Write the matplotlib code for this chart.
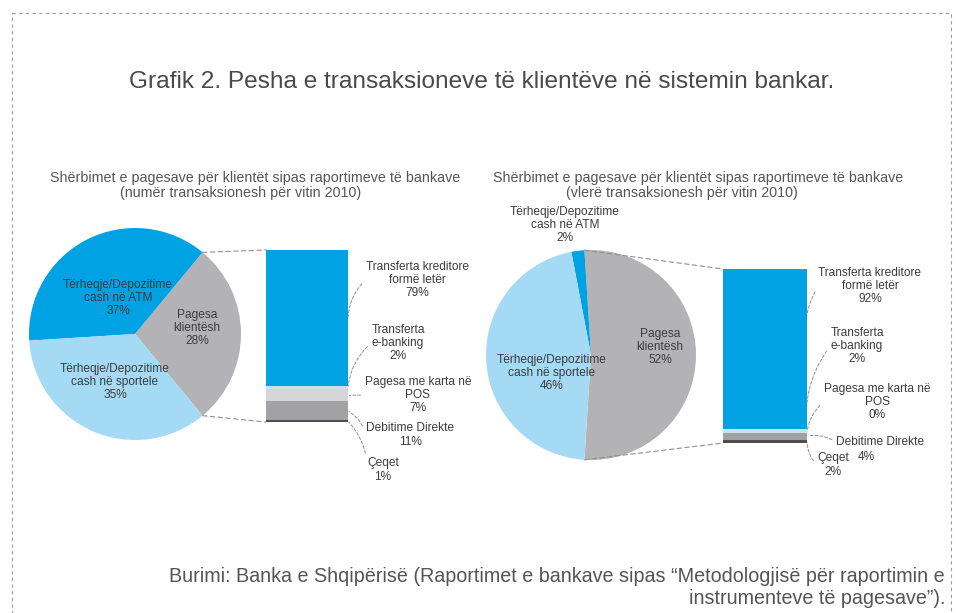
import matplotlib
matplotlib.use('Agg')
import matplotlib.pyplot as plt
from matplotlib.patches import ConnectionPatch, Rectangle
import numpy as np

# ---------------- data ----------------
title = "Grafik 2. Pesha e transaksioneve të klientëve në sistemin bankar."
subtitle_line1 = "Shërbimet e pagesave për klientët sipas raportimeve të bankave"
subtitle_left = "(numër transaksionesh për vitin 2010)"
subtitle_right = "(vlerë transaksionesh për vitin 2010)"
source_line1 = "Burimi: Banka e Shqipërisë (Raportimet e bankave sipas “Metodologjisë për raportimin e"
source_line2 = "instrumenteve të pagesave”)."

pie_labels = ["Pagesa\nklientësh", "Tërheqje/Depozitime\ncash në ATM", "Tërheqje/Depozitime\ncash në sportele"]
left_pie_values = [28, 37, 35]
right_pie_values = [52, 2, 46]

bar_labels = ["Transferta kreditore\nformë letër", "Transferta\ne-banking", "Pagesa me karta në\nPOS",
              "Debitime Direkte", "Çeqet"]
left_bar_values = [79, 2, 7, 11, 1]
right_bar_values = [92, 2, 0, 4, 2]

# ---------------- style / layout ----------------
W, H = 957, 613
BLUE = '#00a2e3'
LBLUE = '#a4daf4'
GRAY = '#b3b3b5'
pie_colors = [GRAY, BLUE, LBLUE]
bar_colors = [BLUE, '#c9e3ee', '#d6d6d8', '#a2a2a4', '#4e4e4e']
TXT = '#555555'
LTXT = '#3c3c3c'
LINE = '#8f8f8f'
LFS = 8.6

plt.rcParams['font.family'] = ['Liberation Sans', 'DejaVu Sans']

fig = plt.figure(figsize=(W / 100, H / 100), dpi=100)
fig.patch.set_facecolor('white')


def fbox(x0, y0, x1, y1):
    return [x0 / W, 1 - y1 / H, (x1 - x0) / W, (y1 - y0) / H]


bg = fig.add_axes([0, 0, 1, 1])
bg.set_xlim(0, W)
bg.set_ylim(H, 0)
bg.axis('off')

# dashed frame
bg.add_patch(Rectangle((12, 13), 939, 700, fill=False, ls=(0, (3, 3)), ec='#9c9c9c', lw=0.8))

bg.text(482, 82, title, ha='center', va='center', fontsize=17.6, color='#4a4a4a')
bg.text(255, 178, subtitle_line1, ha='center', va='center', fontsize=10.3, color=TXT)
bg.text(241, 193, subtitle_left, ha='center', va='center', fontsize=10.3, color=TXT)
bg.text(698, 178, subtitle_line1, ha='center', va='center', fontsize=10.3, color=TXT)
bg.text(682, 193, subtitle_right, ha='center', va='center', fontsize=10.3, color=TXT)
bg.text(945, 576, source_line1, ha='right', va='center', fontsize=14.2, color=TXT)
bg.text(945, 599, source_line2, ha='right', va='center', fontsize=14.2, color=TXT)


def draw_panel(pie_box, bar_box, pie_vals, bar_vals, pie_lpos, bar_lpos):
    axp = fig.add_axes(fbox(*pie_box))
    wedges, _ = axp.pie(pie_vals, colors=pie_colors, startangle=-180 * pie_vals[0] / 100,
                        radius=1, wedgeprops=dict(linewidth=0))
    axp.set_xlim(-1, 1)
    axp.set_ylim(-1, 1)
    axp.axis('off')

    axb = fig.add_axes(fbox(*bar_box))
    bottom = 100
    mids = []
    for v, c in zip(bar_vals, bar_colors):
        bottom -= v
        axb.bar(0, v, bottom=bottom, width=1, color=c, linewidth=0)
        mids.append(bottom + v / 2)
    axb.set_xlim(-0.5, 0.5)
    axb.set_ylim(0, 100)
    axb.axis('off')

    # connection lines pie -> bar
    th1, th2 = wedges[0].theta1, wedges[0].theta2
    for th, yb in ((th2, 100), (th1, 0)):
        cp = ConnectionPatch(xyA=(np.cos(np.radians(th)), np.sin(np.radians(th))), coordsA=axp.transData,
                             xyB=(-0.5, yb), coordsB=axb.transData, color=LINE, lw=0.8,
                             linestyle=(0, (4, 3)))
        fig.add_artist(cp)

    # pie labels (drawn with the pie axes so they sit on top of the wedges)
    for lab, v, (px, py) in zip(pie_labels, pie_vals, pie_lpos):
        axp.text(px, py, f"{lab}\n{v}%", transform=bg.transData, ha='center', va='center',
                 fontsize=LFS, color=LTXT, linespacing=1.15, clip_on=False)

    # bar labels with leader lines
    for lab, v, m, pos in zip(bar_labels, bar_vals, mids, bar_lpos):
        px, py, rad, pct = pos
        txt = f"{lab}\n{v}%" if pct is None else lab
        bg.annotate(txt, xy=(0.5, m), xycoords=axb.transData,
                    xytext=(px, py), textcoords=bg.transData, ha='center', va='center',
                    fontsize=LFS, color=LTXT, linespacing=1.15,
                    arrowprops=dict(arrowstyle='-', color=LINE, lw=0.7, linestyle=(0, (3, 2)),
                                    shrinkA=1, shrinkB=1, relpos=(0, 0.5),
                                    connectionstyle=f'arc3,rad={rad}'))
        if pct is not None:
            bg.text(pct[0], pct[1], f"{v}%", ha='center', va='center', fontsize=LFS, color=LTXT)


draw_panel((29, 228, 241, 440), (266, 250, 348, 422), left_pie_values, left_bar_values,
           [(197, 328), (118, 298), (115, 382)],
           [(417, 280, 0.2, None), (398, 343, 0.2, None), (418, 395, 0.0, None),
            (410, 435, 0.2, None), (383, 470, 0.2, None)])

draw_panel((486, 250, 696, 460), (723, 269, 807, 443), right_pie_values, right_bar_values,
           [(660, 347), (565, 225), (552, 373)],
           [(870, 286, 0.2, None), (857, 346, 0.2, None), (877, 402, 0.2, None),
            (880, 442, 0.2, (866, 457)), (833, 465, -0.2, None)])

fig.savefig('out.png', dpi=100, facecolor='white')
